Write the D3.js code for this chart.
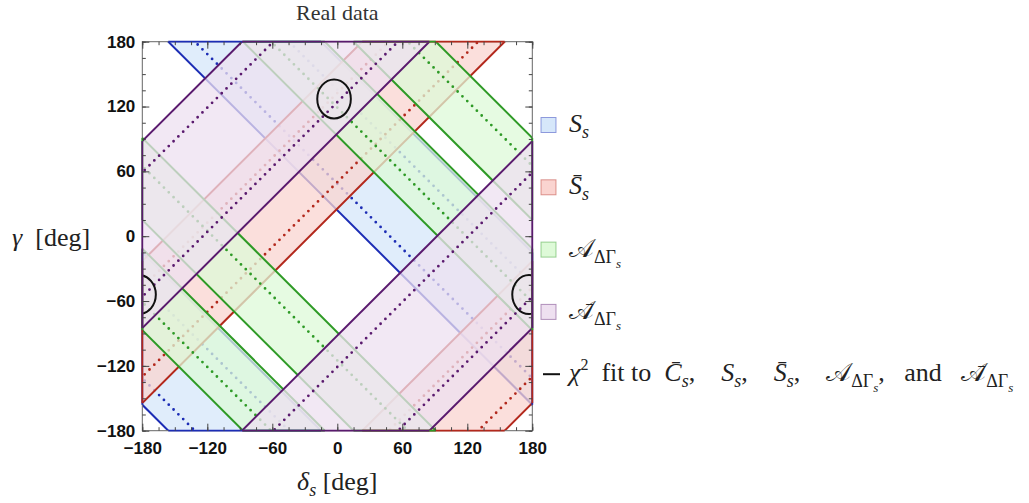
<!DOCTYPE html>
<html>
<head>
<meta charset="utf-8">
<script src="https://cdn.jsdelivr.net/npm/d3@7"></script>
<style>
	body { margin: 0; background: #fff; }
	text { font-family: "Liberation Serif", "Times New Roman", serif; white-space: pre; }
	.tick-label { font-family: "Liberation Sans", Arial, sans-serif; font-weight: bold; font-size: 17px; fill: #111; }
</style>
</head>
<body>
<div id="graphics"></div>
<script>
// band edges and best values (dotted) in degrees
// S_s and A_dG constrain gamma + delta, the barred ones gamma - delta
const sBands = [[24, 165]];
const sBest = [48.5, 135.5];
const sBarBands = [[25.5, 157]];
const sBarBest = [50, 132.5];
const aBands = [[93, 168.5], [195, 271]];
const aBest = [119, 245];
const aBarBands = [[95, 268]];
const aBarBest = [124, 239];

// chi2 fit contour: centres (delta, gamma) and half widths
const fitCentres = [[-3, 127], [177, -54]];
const fitHalfWidth = [15.5, 18];

const majorTicks = [-180, -120, -60, 0, 60, 120, 180];
const minorTicks = d3.range(-180, 181, 15);

const margin = { top: 41.7, left: 142.3 };
const width = 390;
const height = 389;

const svg = d3
	.select('#graphics')
	.append('svg')
	.attr('width', 1029)
	.attr('height', 503);

const x = d3.scaleLinear().domain([-180, 180]).range([margin.left, margin.left + width]);
const y = d3.scaleLinear().domain([-180, 180]).range([margin.top + height, margin.top]);

svg.append('defs').append('clipPath').attr('id', 'plot-clip')
	.append('rect')
	.attr('x', x(-180)).attr('y', y(180))
	.attr('width', x(180) - x(-180)).attr('height', y(-180) - y(180));

// gamma along a line of constant c
const onLine = {
	sum: (c, d) => c - d,
	diff: (c, d) => c + d
};
const far = [-560, 560];
const shifts = [-720, -360, 0, 360, 720];
const line = d3.line().x((p) => x(p[0])).y((p) => y(p[1]));

const layers = [
	{ bands: sBands, best: sBest, family: 'sum', stroke: '#1c2db5', fill: 'rgb(214,231,250)' },
	{ bands: sBarBands, best: sBarBest, family: 'diff', stroke: '#b3281c', fill: 'rgb(250,212,208)' },
	{ bands: aBands, best: aBest, family: 'sum', stroke: '#2e9a26', fill: 'rgb(222,250,216)' },
	{ bands: aBarBands, best: aBarBest, family: 'diff', stroke: '#5a1a6e', fill: 'rgb(238,224,240)' }
];

const plot = svg.append('g').attr('clip-path', 'url(#plot-clip)');

const lineAt = (f, c) => [[far[0], f(c, far[0])], [far[1], f(c, far[1])]];

layers.forEach((layer) => {
	const g = plot.append('g');
	const f = onLine[layer.family];
	layer.bands.forEach(([a, b]) => {
		shifts.forEach((k) => {
			const poly = lineAt(f, a + k).concat(lineAt(f, b + k).reverse());
			g.append('path')
				.attr('d', line(poly) + 'Z')
				.attr('fill', layer.fill)
				.attr('fill-opacity', 0.75);
		});
	});
	layer.bands.forEach(([a, b]) => {
		[a, b].forEach((c) => {
			shifts.forEach((k) => {
				g.append('path')
					.attr('d', line(lineAt(f, c + k)))
					.attr('fill', 'none')
					.attr('stroke', layer.stroke)
					.attr('stroke-width', 2);
			});
		});
	});
	layer.best.forEach((c) => {
		shifts.forEach((k) => {
			g.append('path')
				.attr('d', line(lineAt(f, c + k)))
				.attr('fill', 'none')
				.attr('stroke', layer.stroke)
				.attr('stroke-width', 2.8)
				.attr('stroke-linecap', 'round')
				.attr('stroke-dasharray', '0,6.8');
		});
	});
});

// chi2 contours, repeated across the periodic edges
fitCentres.forEach(([d, gm]) => {
	[-360, 0, 360].forEach((kd) => {
		[-360, 0, 360].forEach((kg) => {
			plot.append('ellipse')
				.attr('cx', x(d + kd))
				.attr('cy', y(gm + kg))
				.attr('rx', x(fitHalfWidth[0]) - x(0))
				.attr('ry', y(0) - y(fitHalfWidth[1]))
				.attr('fill', 'none')
				.attr('stroke', '#111')
				.attr('stroke-width', 2);
		});
	});
});

// frame
svg.append('rect')
	.attr('x', x(-180)).attr('y', y(180))
	.attr('width', x(180) - x(-180)).attr('height', y(-180) - y(180))
	.attr('fill', 'none')
	.attr('stroke', '#666')
	.attr('stroke-width', 1);

// region boundaries running along the frame
const borders = [
	{ pt: (t) => [x(t), y(180)], sum: [1, 180], diff: [-1, 180] },
	{ pt: (t) => [x(t), y(-180)], sum: [1, -180], diff: [-1, -180] },
	{ pt: (t) => [x(-180), y(t)], sum: [1, -180], diff: [1, 180] },
	{ pt: (t) => [x(180), y(t)], sum: [1, 180], diff: [1, -180] }
];
layers.forEach((layer) => {
	borders.forEach((border) => {
		const [s, o] = border[layer.family];
		layer.bands.forEach(([a, b]) => {
			shifts.forEach((k) => {
				let t1 = (a + k - o) / s;
				let t2 = (b + k - o) / s;
				if (t1 > t2) [t1, t2] = [t2, t1];
				t1 = Math.max(t1, -180);
				t2 = Math.min(t2, 180);
				if (t1 >= t2) return;
				const p1 = border.pt(t1);
				const p2 = border.pt(t2);
				svg.append('line')
					.attr('x1', p1[0]).attr('y1', p1[1])
					.attr('x2', p2[0]).attr('y2', p2[1])
					.attr('stroke', layer.stroke)
					.attr('stroke-width', 1.8);
			});
		});
	});
});

// ticks pointing inwards on all four sides
const fmt = d3.format('d');
function ticks(axis, transform, values, size, labels) {
	const g = svg.append('g')
		.attr('transform', transform)
		.attr('color', '#444')
		.call(axis.tickValues(values).tickSize(-size).tickPadding(labels ? 7 : 0).tickFormat(labels ? fmt : ''));
	g.select('.domain').remove();
	g.selectAll('text').attr('class', 'tick-label');
	g.attr('font-size', null).attr('font-family', null);
	return g;
}
ticks(d3.axisBottom(x), `translate(0,${y(-180)})`, minorTicks, 3.5, false);
ticks(d3.axisTop(x), `translate(0,${y(180)})`, minorTicks, 3.5, false);
ticks(d3.axisLeft(y), `translate(${x(-180)},0)`, minorTicks, 3.5, false);
ticks(d3.axisRight(y), `translate(${x(180)},0)`, minorTicks, 3.5, false);
ticks(d3.axisBottom(x), `translate(0,${y(-180)})`, majorTicks, 7, true).selectAll('text').attr('dy', '0.95em');
ticks(d3.axisTop(x), `translate(0,${y(180)})`, majorTicks, 7, false);
ticks(d3.axisLeft(y), `translate(${x(-180)},0)`, majorTicks, 7, true);
ticks(d3.axisRight(y), `translate(${x(180)},0)`, majorTicks, 7, false);

// rich text: [string, level, italic]
const levelShift = { sup: -11, base: 0, sub: 6, subsub: 11 };
const levelSize = { sup: 16, base: 26, sub: 18, subsub: 13 };
function rich(px, py, parts, anchor) {
	const t = svg.append('text')
		.attr('x', px).attr('y', py)
		.attr('fill', '#222')
		.attr('text-anchor', anchor || 'start');
	let prev = 0;
	parts.forEach(([str, level, italic]) => {
		const sh = levelShift[level];
		t.append('tspan')
			.attr('dy', sh - prev)
			.attr('font-size', levelSize[level])
			.attr('font-style', italic ? 'italic' : 'normal')
			.text(str);
		prev = sh;
	});
	return t;
}

svg.append('text')
	.attr('x', x(0)).attr('y', 20)
	.attr('text-anchor', 'middle')
	.attr('font-size', 22)
	.attr('fill', '#333')
	.text('Real data');

rich(x(0), 490, [['δ', 'base', 1], ['s', 'sub', 1], [' [deg]', 'base', 0]], 'middle');
rich(12, 246, [['γ', 'base', 1], ['  [deg]', 'base', 0]]);

// legend
const legendLabels = [
	[['S', 'base', 1], ['s', 'sub', 1]],
	[['S\u0304', 'base', 1], ['s', 'sub', 1]],
	[['𝒜', 'base', 0], ['ΔΓ', 'sub', 0], ['s', 'subsub', 1]],
	[['𝒜\u0304', 'base', 0], ['ΔΓ', 'sub', 0], ['s', 'subsub', 1]]
];
const fitLabel = [
	['χ', 'base', 1], ['2', 'sup', 0], ['  fit to  ', 'base', 0],
	['C\u0304', 'base', 1], ['s', 'sub', 1], [',    ', 'base', 0],
	['S', 'base', 1], ['s', 'sub', 1], [',    ', 'base', 0],
	['S\u0304', 'base', 1], ['s', 'sub', 1], [',    ', 'base', 0],
	['𝒜', 'base', 0], ['ΔΓ', 'sub', 0], ['s', 'subsub', 1], [',   and   ', 'base', 0],
	['𝒜\u0304', 'base', 0], ['ΔΓ', 'sub', 0], ['s', 'subsub', 1]
];
const legendX = 541;
const legendTop = 125;
const legendStep = 62.3;

layers.forEach((layer, i) => {
	const cy = legendTop + i * legendStep;
	svg.append('rect')
		.attr('x', legendX).attr('y', cy - 7.5)
		.attr('width', 15).attr('height', 15)
		.attr('fill', layer.fill)
		.attr('stroke', layer.stroke)
		.attr('stroke-opacity', 0.45)
		.attr('stroke-width', 1);
	rich(legendX + 28, cy + 7, legendLabels[i]);
});
const fitY = legendTop + 4 * legendStep;
svg.append('line')
	.attr('x1', legendX + 2).attr('x2', legendX + 19)
	.attr('y1', fitY).attr('y2', fitY)
	.attr('stroke', '#111').attr('stroke-width', 2);
rich(legendX + 28, fitY + 7, fitLabel);
</script>
</body>
</html>
